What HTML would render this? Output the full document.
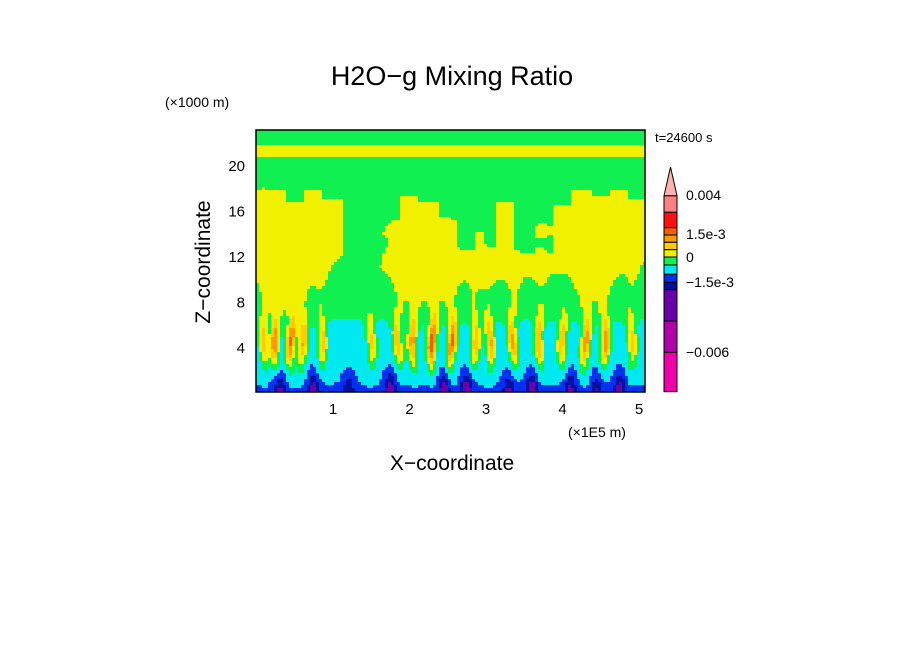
<!DOCTYPE html>
<html><head><meta charset="utf-8"><style>
html,body{margin:0;padding:0;background:#fff;}
svg{display:block;font-family:"Liberation Sans","DejaVu Sans",sans-serif;}
</style></head><body>
<svg id="chart" width="904" height="654" viewBox="0 0 904 654">
<text x="452" y="85" font-size="27" text-anchor="middle">H2O−g Mixing Ratio</text>
<text x="165" y="107" font-size="14">(×1000 m)</text>
<text x="655" y="142" font-size="13">t=24600 s</text>
<text x="568" y="437" font-size="14">(×1E5 m)</text>
<text x="452" y="470" font-size="21" text-anchor="middle">X−coordinate</text>
<text x="0" y="0" font-size="21" text-anchor="middle" transform="translate(210,262) rotate(-90)">Z−coordinate</text>
<g id="field"></g>
<rect x="256" y="130" width="389" height="262" fill="none" stroke="#000" stroke-width="1.5"/>
<g id="xticks"></g>
<g id="yticks"></g>
<g id="cbar"></g>
</svg>
<script>
// ---- data ----
const xTicks = [1, 2, 3, 4, 5];
const yTicks = [4, 8, 12, 16, 20];
const levelColors = ["#f000a8","#b000a8","#6a00a8","#0010a0","#0030f0","#00e8f0","#10f050","#f0f000","#ffcc00","#ff9900","#f06000","#ff1010","#ff8080"];
const cbarLabels = ["0.004","1.5e-3","0","−1.5e-3","−0.006"];
// background level by height (km, 0..23)
const baseProfile = [4.7,5.1,5.3,5.4,5.45,5.5,5.8,6.2,6.3,6.35,6.45,6.6,6.8,6.95,7.15,7.2,7.1,6.8,6.7,6.6,6.55,7.3,6.95,6.7];
// upper-layer column modulation every 0.25 (x 1E5 m)
const upperMod = [0.4,0.3,0.1,0.3,0.2,-0.4,-0.5,-0.3,0.2,0.1,-0.3,-0.5,-0.4,0.1,-0.4,-0.3,0.0,0.3,0.2,0.3,0.2];
// convective plumes: position and strengths
const plumeX   = [0.1,0.25,0.45,0.6,0.85,1.5,1.85,2.05,2.3,2.55,2.85,3.05,3.35,3.7,4.0,4.3,4.55,4.9];
const plumeCore= [3.0,4.3,4.6,3.6,3.0,2.8,3.4,4.0,5.2,4.8,3.4,3.6,3.9,3.8,3.4,4.2,4.0,3.0];
const plumeWide= [0.7,0.9,0.9,0.6,0.6,0.4,0.7,0.9,0.9,0.8,0.6,0.5,0.7,0.6,0.4,0.9,0.9,0.6];
// downdraft (dry) regions near surface
const downX   = [0.3,0.75,1.2,1.75,2.45,2.75,3.3,3.6,4.1,4.45,4.75];
const downAmp = [2.2,2.6,1.8,2.8,2.6,2.9,2.2,2.7,2.4,2.0,2.6];

// ---- axes ----
const xs = v => 256.5 + v*76.5;
const ys = z => 392.5 - z*11.375;
const NS="http://www.w3.org/2000/svg";
function mk(tag, attrs, parent){const e=document.createElementNS(NS,tag);for(const k in attrs)e.setAttribute(k,attrs[k]);parent.appendChild(e);return e;}

function fieldVal(x,z){
  const zi=Math.min(22,Math.max(0,Math.floor(z))), f=z-zi;
  let v=baseProfile[zi]*(1-f)+baseProfile[Math.min(23,zi+1)]*f;
  if(z>11 && z<19){const mi=Math.min(upperMod.length-1,Math.max(0,Math.round(x/0.25)));v+=upperMod[mi]*Math.min(1,(z-11)/2)*Math.min(1,(19-z)/1.5);}
  let wideSum=0;
  for(let i=0;i<plumeX.length;i++){
    const dx=x-plumeX[i]-0.02*Math.sin(z*0.9+i);
    const core=Math.exp(-Math.pow(dx/0.06,2))*Math.exp(-Math.pow((z-4.4)/2.2,2));
    const wide=Math.exp(-Math.pow(dx/(0.05+0.012*z),2))*Math.exp(-Math.pow((z-10)/3.5,2));
    v+=plumeCore[i]*core;
    wideSum+=plumeWide[i]*wide;
  }
  v+=Math.min(0.95,wideSum);
  if(z>8) v=Math.max(6.05,Math.min(7.9,v));
  for(let i=0;i<downX.length;i++){
    const dx=x-downX[i];
    v-=downAmp[i]*Math.exp(-Math.pow(dx/0.08,2))*Math.exp(-Math.pow(z/1.8,2));
  }
  return v;
}

const field=document.getElementById('field');
const W=3,H=3;
for(let py=130;py<392;py+=H){
  for(let px=256;px<645;px+=W){
    const x=(px+W/2-256.5)/76.5, z=(392.5-(py+H/2))/11.375;
    const idx=Math.max(0,Math.min(12,Math.floor(fieldVal(x,z))));
    const r=mk('rect',{x:px,y:py,width:Math.min(W,645-px)+0.3,height:Math.min(H,392-py)+0.3,fill:levelColors[idx]},field);
    
    
  }
}

const xt=document.getElementById('xticks');
xTicks.forEach(t=>{const e=mk('text',{x:xs(t),y:414,'font-size':15,'text-anchor':'middle'},xt);e.textContent=t;
 
 });
const yt=document.getElementById('yticks');
yTicks.forEach(t=>{const e=mk('text',{x:245,y:ys(t)+6,'font-size':15,'text-anchor':'end'},yt);e.textContent=t;
 
 });

// colorbar
const cb=document.getElementById('cbar');
const cbBounds=[195.7,212.3,227.7,235,242.3,249.7,257,265,274.3,282.3,289.7,321,352.3,391.7];
for(let k=0;k<13;k++){
  const lvl=12-k;
  const r=mk('rect',{x:664,y:cbBounds[k],width:13,height:cbBounds[k+1]-cbBounds[k],fill:levelColors[lvl],stroke:'#000','stroke-width':1},cb);
  
  
}
const tri=mk('polygon',{points:'664,195.7 677,195.7 670.5,167',fill:'#ffb0b0',stroke:'#000','stroke-width':1},cb);


const cbY=[200,239,262,287,357];
cbarLabels.forEach((l,i)=>{const e=mk('text',{x:686,y:cbY[i],'font-size':14},cb);e.textContent=l;
 
 });
</script>
</body></html>
